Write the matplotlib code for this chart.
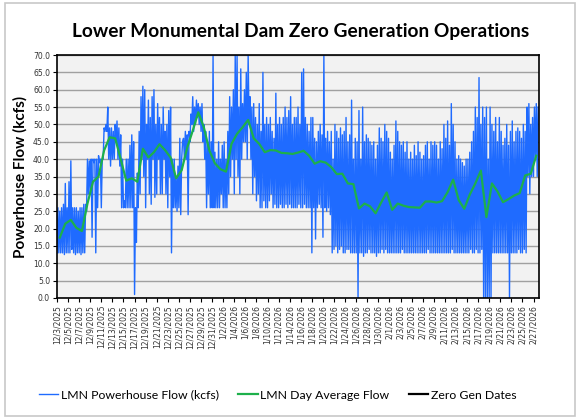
import matplotlib
matplotlib.use("Agg")
import matplotlib.pyplot as plt
import pandas as pd
from matplotlib.patches import Rectangle

# hourly-ish powerhouse flow: 6 readings per day (every 4 h), kcfs
flow_by_day = [
    [13, 26, 13, 25, 13, 26],      # 12/3
    [13, 27, 12.5, 33, 13, 26],
    [13, 33.5, 13, 39.5, 14, 26],
    [13, 26, 12.5, 26, 13, 25],
    [13, 26, 12.5, 26, 13, 27],
    [13, 27, 25, 40, 30, 39.5],
    [30, 40, 17.5, 40, 39, 40],
    [13, 40, 26, 41, 39, 40],
    [26, 40, 40, 49, 48, 50],
    [48, 55, 40, 49, 38, 49],
    [40, 48, 40, 50, 45, 51],      # 12/13
    [40, 49, 38, 47, 26, 40],
    [26, 28, 26, 40, 26, 40],
    [26, 44, 26, 47, 26, 45],
    [1, 26, 16, 36, 26, 48],
    [30, 58, 40, 61, 35, 60],
    [26, 50, 40, 57, 30, 52],
    [27, 58, 40, 60, 29, 50],
    [30, 56, 40, 52, 30, 50],
    [30, 55, 40, 48, 30, 50],
    [26, 54, 35, 55, 13, 40],      # 12/23
    [26, 40, 26, 35, 25, 38],
    [26, 46, 24, 40, 45, 46],
    [40, 48, 40, 47, 24, 48],
    [45, 53, 50, 58, 48, 55],
    [50, 57, 52, 56, 50, 55],
    [48, 56, 45, 50, 40, 48],
    [26, 45, 30, 48, 26, 45],
    [26, 70, 26, 42, 26, 40],
    [26, 45, 26, 40, 30, 44],      # 1/1
    [26, 45, 26, 40, 26, 48],
    [30, 58, 35, 55, 40, 60],
    [30, 70, 40, 70, 35, 55],
    [30, 66, 40, 56, 45, 60],
    [45, 65, 40, 70, 50, 58],
    [40, 55, 30, 56, 35, 52],
    [28, 50, 30, 56, 26, 48],
    [26, 65, 28, 50, 26, 52],
    [26, 50, 28, 52, 30, 48],
    [26, 46, 27, 59, 26, 50],      # 1/11
    [26, 52, 27, 50, 26, 52],
    [26, 55, 27, 52, 26, 54],
    [27, 58, 26, 50, 26, 52],
    [26, 52, 26, 55, 27, 50],
    [26, 65, 26, 66, 27, 52],
    [26, 50, 26, 48, 26, 52],
    [13, 52, 26, 46, 17, 45],
    [26, 48, 27, 50, 26, 47],
    [17.5, 70, 26, 46, 25, 48],
    [26, 45, 24, 48, 13, 40],      # 1/21
    [14, 50, 15, 48, 13, 46],
    [14, 49, 15, 47, 13, 48],
    [13, 52, 14, 45, 14, 47],
    [13, 57, 13, 40, 13, 46],
    [13, 45, 0, 54, 13, 40],
    [13, 55, 12, 45, 13, 47],
    [13, 46, 14, 45, 13, 44],
    [13, 45, 13, 40, 12, 44],
    [13, 49, 13, 46, 14, 45],
    [13, 50, 14, 48, 13, 46],      # 1/31
    [13, 42, 13, 40, 13, 44],
    [13, 51, 13, 48, 13, 45],
    [13, 44, 14, 45, 13, 42],
    [13, 45, 13, 40, 13, 42],
    [13, 40, 13, 44, 13, 41],
    [13, 45, 13, 42, 13, 40],
    [13, 41, 13, 44, 13, 45],
    [14, 40, 13, 45, 13, 44],
    [13, 45, 13, 44, 13, 40],
    [13, 45, 13, 43, 13, 50],      # 2/10
    [13, 46, 13, 51, 13, 44],
    [13, 56, 14, 50, 13, 45],
    [13, 40, 13, 41, 13, 40],
    [13, 39, 13, 38, 13, 40],
    [13, 40, 13, 42, 14, 45],
    [13, 48, 13, 55, 14, 52],
    [13, 63.5, 13, 50, 14, 55],
    [0, 52, 0, 55, 0, 40],
    [0, 55, 0, 50, 13, 48],
    [13, 52, 13, 45, 13, 52],      # 2/20
    [13, 48, 13, 44, 13, 46],
    [13, 50, 13, 44, 0, 48],
    [13, 51, 13, 45, 13, 48],
    [13, 49, 14, 48, 13, 46],
    [13, 50, 14, 48, 13, 55],
    [35, 56, 30, 50, 35, 52],
    [35, 55, 40, 56, 35, 55],      # 2/27
]

# daily average flow (plotted at noon of each day)
day_avg = [
    17.4, 21.4, 22.5, 20.2, 19.3, 27.2, 33.5, 35.0, 42.5, 46.3,
    46.0, 40.0, 33.8, 34.5, 33.5, 43.0, 40.5, 42.0, 44.3, 42.6,
    40.5, 34.5, 36.8, 43.3, 48.2, 53.5, 49.2, 42.5, 38.8, 37.1,
    36.4, 44.4, 47.3, 49.2, 51.3, 46.0, 44.4, 42.0, 42.6, 42.5,
    41.8, 41.7, 41.5, 41.9, 42.4, 41.0, 38.7, 39.4, 39.0, 37.7,
    35.7, 35.8, 33.0, 32.8, 25.8, 27.2, 26.4, 24.4, 27.5, 30.4,
    25.4, 27.2, 26.6, 26.2, 26.1, 26.0, 27.8, 27.8, 27.5, 27.9,
    30.5, 34.1, 28.2, 25.7, 29.8, 33.0, 36.7, 23.3, 33.0, 30.7,
    27.6, 28.5, 29.5, 30.2, 35.3, 35.8, 41.0,
]

zero_gen_dates = []  # no zero-gen markers visible in the plotted window
zero_gen_vals = []

start = "2025-12-03"
flow = [v for day in flow_by_day for v in day]
flow_t = pd.date_range(start, periods=len(flow), freq="4h")
avg_t = pd.date_range(start, periods=len(day_avg), freq="D") + pd.Timedelta(hours=12)

fig = plt.figure(figsize=(5.78, 4.18), dpi=100)
fig.patches.append(Rectangle((0.008, 0.004), 0.986, 0.99, transform=fig.transFigure,
                             fill=False, edgecolor="#c8c8c8", linewidth=1.2))
ax = fig.add_axes([0.0986, 0.2871, 0.834, 0.5813])
ax.set_facecolor("#f2f2f2")

ax.plot(flow_t, flow, color="#1f6bff", lw=1.0, label="LMN Powerhouse Flow (kcfs)")
ax.plot(avg_t, day_avg, color="#1db04b", lw=1.6, label="LMN Day Average Flow")
ax.plot(zero_gen_dates, zero_gen_vals, color="black", lw=1.6, label="Zero Gen Dates")

ax.set_ylim(0, 70)
ax.set_yticks(range(0, 71, 5))
ax.set_yticklabels([f"{v:.1f}" for v in range(0, 71, 5)], fontsize=5.5, color="#333333")
ax.grid(axis="y", color="#a0a0a0", lw=1.0)
ax.set_axisbelow(True)

x0 = pd.Timestamp(start)
x1 = pd.Timestamp("2026-02-28")
ax.set_xlim(x0, x1)
ticks = pd.date_range(x0, "2026-02-27", freq="2D")
ax.set_xticks(ticks)
ax.set_xticklabels([f"{d.month}/{d.day}/{d.year}" for d in ticks], rotation=90,
                   fontsize=5.5, color="#333333")
ax.tick_params(axis="both", length=3, width=0.8, pad=2)

for s in ax.spines.values():
    s.set_color("black")
    s.set_linewidth(1.2)

ax.set_ylabel("Powerhouse Flow (kcfs)", fontsize=11, fontweight="bold", family="Lato", labelpad=4)
fig.suptitle("Lower Monumental Dam Zero Generation Operations", fontsize=13.8,
             fontweight="bold", family="Lato", x=0.52, y=0.945)

fig.legend(loc="lower center", bbox_to_anchor=(0.48, 0.015), ncol=3, frameon=False,
           prop={"family": "Lato", "size": 8.8}, handlelength=1.6, handletextpad=0.2,
           columnspacing=1.6)

fig.savefig("out.png", dpi=100)
